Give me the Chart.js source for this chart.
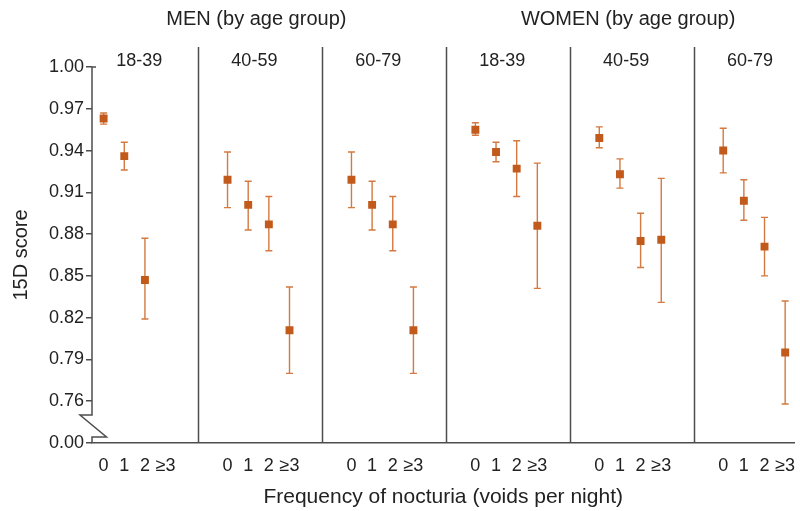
<!DOCTYPE html>
<html>
<head>
<meta charset="utf-8">
<script src="https://cdn.jsdelivr.net/npm/chart.js@4/dist/chart.umd.min.js"></script>
<style>
html,body{margin:0;padding:0;background:#fff;}
#wrap{width:800px;height:511px;position:relative;}
</style>
</head>
<body>
<div id="wrap"><canvas id="c" width="800" height="511"></canvas></div>
<script>
// ---------- data ----------
const categories = ['0', '1', '2', '≥3'];
const ageGroups = ['18-39', '40-59', '60-79', '18-39', '40-59', '60-79'];
const sexGroups = ['MEN (by age group)', 'WOMEN (by age group)'];

// mean 15D score per panel (men 18-39, 40-59, 60-79, women 18-39, 40-59, 60-79)
const meanScores = [
  [0.963, 0.936, 0.847, null],
  [0.919, 0.901, 0.887, 0.811],
  [0.919, 0.901, 0.887, 0.811],
  [0.955, 0.939, 0.927, 0.886],
  [0.949, 0.923, 0.875, 0.876],
  [0.940, 0.904, 0.871, 0.795]
];
const lowerCI = [
  [0.959, 0.926, 0.819, null],
  [0.899, 0.883, 0.868, 0.780],
  [0.899, 0.883, 0.868, 0.780],
  [0.951, 0.932, 0.907, 0.841],
  [0.942, 0.913, 0.856, 0.831],
  [0.924, 0.890, 0.850, 0.758]
];
const upperCI = [
  [0.967, 0.946, 0.877, null],
  [0.939, 0.918, 0.907, 0.842],
  [0.939, 0.918, 0.907, 0.842],
  [0.960, 0.946, 0.947, 0.931],
  [0.957, 0.934, 0.895, 0.920],
  [0.956, 0.919, 0.892, 0.832]
];
const yTickValues = [0.00, 0.76, 0.79, 0.82, 0.85, 0.88, 0.91, 0.94, 0.97, 1.00];
const yTickLabels = ['0.00', '0.76', '0.79', '0.82', '0.85', '0.88', '0.91', '0.94', '0.97', '1.00'];
const yTitle = '15D score';
const xTitle = 'Frequency of nocturia (voids per night)';

// ---------- layout helpers ----------
const PANEL_UNITS = 6;
const CAT_OFFSET = 1.41;
const Y_BREAK_POS = 0.73;          // axis position at which 0.00 is drawn (broken axis)
const FONT = "'Liberation Sans', Arial, Helvetica, sans-serif";
const TEXT = '#222';
const AXIS = '#4d4d4d';
const MARK = '#C25A1C';
const ERR = '#D47A40';

const xPos = (p, i) => p * PANEL_UNITS + CAT_OFFSET + i;
const yPos = v => (v === 0 ? Y_BREAK_POS : v);

const points = [];
meanScores.forEach((row, p) => row.forEach((m, i) => {
  if (m != null) points.push({ x: xPos(p, i), y: m });
}));
const xTickPositions = [];
ageGroups.forEach((g, p) => categories.forEach((c, i) => xTickPositions.push(xPos(p, i))));

const decor = {
  id: 'decor',
  beforeDatasetsDraw(chart) {
    const { ctx, scales: { x, y } } = chart;
    ctx.save();
    ctx.strokeStyle = ERR;
    ctx.lineWidth = 1.4;
    meanScores.forEach((row, p) => row.forEach((m, i) => {
      if (m == null) return;
      const px = x.getPixelForValue(xPos(p, i));
      const yl = y.getPixelForValue(lowerCI[p][i]);
      const yh = y.getPixelForValue(upperCI[p][i]);
      ctx.beginPath();
      ctx.moveTo(px, yl); ctx.lineTo(px, yh);
      ctx.moveTo(px - 3.5, yl); ctx.lineTo(px + 3.5, yl);
      ctx.moveTo(px - 3.5, yh); ctx.lineTo(px + 3.5, yh);
      ctx.stroke();
    }));
    ctx.restore();
  },
  afterDraw(chart) {
    const { ctx, chartArea: a, scales: { x } } = chart;
    ctx.save();
    // panel separators
    ctx.strokeStyle = AXIS;
    ctx.lineWidth = 1.5;
    for (let p = 1; p < ageGroups.length; p++) {
      const sx = Math.round(x.getPixelForValue(p * PANEL_UNITS)) + 0.5;
      ctx.beginPath();
      ctx.moveTo(sx, 47);
      ctx.lineTo(sx, a.bottom);
      ctx.stroke();
    }
    // broken y axis
    const L = a.left, B = a.bottom;
    ctx.beginPath();
    ctx.moveTo(L + 4, a.top);
    ctx.lineTo(L, a.top);
    ctx.lineTo(L, B - 28);
    ctx.lineTo(L - 12, B - 28);
    ctx.lineTo(L + 14.5, B - 6);
    ctx.lineTo(L, B - 6);
    ctx.lineTo(L, B);
    ctx.stroke();
    // group headers
    ctx.fillStyle = TEXT;
    ctx.textAlign = 'center';
    ctx.textBaseline = 'middle';
    ctx.font = '20px ' + FONT;
    sexGroups.forEach((g, k) => {
      const cx = (x.getPixelForValue(k * 18) + x.getPixelForValue(k * 18 + 18)) / 2 - 4;
      ctx.fillText(g, cx, 19.5);
    });
    // age group labels
    ctx.font = '18px ' + FONT;
    ageGroups.forEach((g, p) => {
      const l = Math.max(x.getPixelForValue(p * PANEL_UNITS), a.left);
      const r = x.getPixelForValue(p * PANEL_UNITS + PANEL_UNITS);
      ctx.fillText(g, (l + r) / 2 - 6, 61);
    });
    ctx.restore();
  }
};

new Chart(document.getElementById('c'), {
  type: 'scatter',
  data: {
    datasets: [{
      data: points,
      pointStyle: 'rect',
      pointRadius: 5.6,
      pointHoverRadius: 5.6,
      backgroundColor: MARK,
      borderColor: MARK,
      borderWidth: 0,
      showLine: false
    }]
  },
  options: {
    responsive: false,
    animation: false,
    events: [],
    layout: { padding: { top: 67, left: 0, right: 5, bottom: 0 } },
    plugins: { legend: { display: false }, tooltip: { enabled: false } },
    scales: {
      x: {
        type: 'linear',
        min: 0.847,
        max: 34.857,
        afterBuildTicks: s => { s.ticks = xTickPositions.map(v => ({ value: v })); },
        afterFit: s => { s.height = 68; s.paddingLeft = 0; s.paddingRight = 0; },
        ticks: {
          autoSkip: false, maxRotation: 0, minRotation: 0, padding: 12,
          font: { family: FONT, size: 18 }, color: TEXT,
          callback: (v, idx) => categories[idx % categories.length]
        },
        grid: { display: false, drawTicks: false },
        border: { display: true, color: AXIS, width: 1.5 },
        title: {
          display: true, text: xTitle, color: TEXT,
          font: { family: FONT, size: 21 }, padding: { top: 0, bottom: 1 }
        }
      },
      y: {
        type: 'linear',
        min: Y_BREAK_POS,
        max: 1.00,
        afterBuildTicks: s => { s.ticks = yTickValues.map(v => ({ value: yPos(v) })); },
        afterFit: s => { s.width = 92; },
        ticks: {
          autoSkip: false, padding: 2,
          font: { family: FONT, size: 18 }, color: TEXT,
          callback: (v, idx) => yTickLabels[idx]
        },
        grid: { display: true, drawOnChartArea: false, drawTicks: true, tickLength: 6, color: AXIS, lineWidth: 1.5 },
        border: { display: false },
        title: {
          display: true, text: yTitle, color: TEXT,
          font: { family: FONT, size: 20 }, padding: { top: 9, bottom: 0 }
        }
      }
    }
  },
  plugins: [decor]
});
</script>
</body>
</html>
